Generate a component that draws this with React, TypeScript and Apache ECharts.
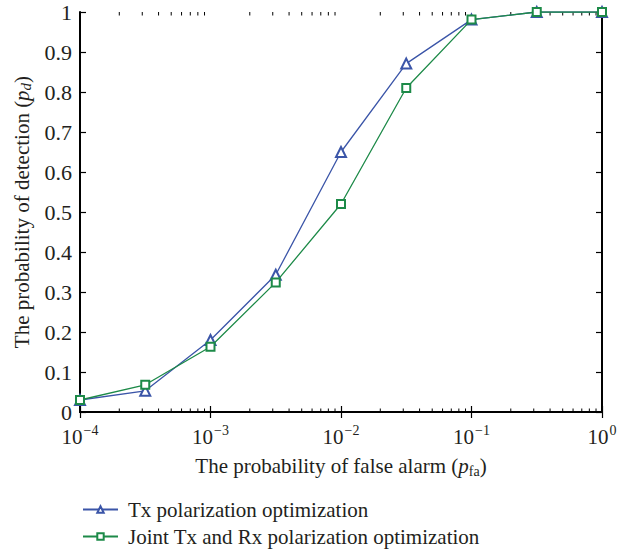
import React, { useEffect, useRef } from "react";
import * as echarts from "echarts";

const xValues = [1e-4, 3.1623e-4, 1e-3, 3.1623e-3, 1e-2, 3.1623e-2, 1e-1, 3.1623e-1, 1];
const txValues = [0.03, 0.053, 0.18, 0.343, 0.65, 0.871, 0.981, 1.0, 1.0];
const jointValues = [0.03, 0.068, 0.163, 0.324, 0.52, 0.81, 0.981, 1.0, 1.0];
const seriesNames = ["Tx polarization optimization", "Joint Tx and Rx polarization optimization"];
const yTickLabels = ["0", "0.1", "0.2", "0.3", "0.4", "0.5", "0.6", "0.7", "0.8", "0.9", "1"];
const decadeExponents = [-4, -3, -2, -1];
const minorMultipliers = [2, 3, 4, 5, 6, 7, 8, 9];

const FONT = "Liberation Serif";
const BLUE = "#3b55a8";
const GREEN = "#1d8a48";
const INK = "#231f20";

export default function App() {
  const ref = useRef<HTMLDivElement>(null);
  useEffect(() => {
    if (!ref.current) return;
    const chart = echarts.init(ref.current, null, { renderer: "svg" });
    const minorTicks: number[][] = [];
    decadeExponents.forEach((e) => {
      minorMultipliers.forEach((m) => minorTicks.push([m * Math.pow(10, e), 0]));
    });
    const sup = (v: number) => {
      const e = Math.round(Math.log10(v));
      const s = e < 0 ? "\u2212" + Math.abs(e) : String(e);
      return "{b|10}{s|" + s + "}";
    };
    chart.setOption({
      animation: false,
      backgroundColor: "#ffffff",
      grid: { left: 80, right: 34, top: 12, bottom: 143 },
      legend: {
        data: seriesNames,
        orient: "vertical",
        left: 77,
        top: 494,
        height: 60,
        itemWidth: 35,
        itemHeight: 8,
        itemGap: 6,
        textStyle: { fontFamily: FONT, fontSize: 21, color: INK, padding: [0, 0, 0, 5] },
      },
      xAxis: [
        {
          type: "log",
          logBase: 10,
          min: 1e-4,
          max: 1,
          position: "bottom",
          axisLine: { lineStyle: { color: "#000", width: 2 } },
          axisTick: { inside: true, length: 6, lineStyle: { color: "#000", width: 1.2 } },
          splitLine: { show: false },
          axisLabel: {
            margin: 11,
            formatter: (v: number) => sup(v),
            rich: {
              b: { fontFamily: FONT, fontSize: 21, color: INK },
              s: { fontFamily: FONT, fontSize: 14, color: INK, padding: [0, 0, 13, 1] },
            },
          },
          name: "{n|The probability of false alarm (}{i|p}{f|fa}{n|)}",
          nameLocation: "middle",
          nameGap: 42,
          nameTextStyle: {
            rich: {
              n: { fontFamily: FONT, fontSize: 21, color: INK },
              i: { fontFamily: FONT, fontSize: 21, fontStyle: "italic", color: INK },
              f: { fontFamily: FONT, fontSize: 14, color: INK, padding: [10, 0, 0, 0] },
            },
          },
        },
        {
          type: "log",
          logBase: 10,
          min: 1e-4,
          max: 1,
          position: "top",
          axisLine: { lineStyle: { color: "#000", width: 2 } },
          axisTick: { inside: true, length: 6, lineStyle: { color: "#000", width: 1.2 } },
          axisLabel: { show: false },
          splitLine: { show: false },
        },
      ],
      yAxis: [
        {
          type: "value",
          min: 0,
          max: 1,
          interval: 0.1,
          position: "left",
          axisLine: { show: true, lineStyle: { color: "#000", width: 2 } },
          axisTick: { show: true, inside: true, length: 6, lineStyle: { color: "#000", width: 1.2 } },
          splitLine: { show: false },
          axisLabel: {
            margin: 8,
            fontFamily: FONT,
            fontSize: 22,
            color: INK,
            formatter: (v: number) => yTickLabels[Math.round(v * 10)],
          },
          name: "{n|The probability of detection (}{i|p}{d|d}{n|)}",
          nameLocation: "middle",
          nameGap: 41,
          nameTextStyle: {
            rich: {
              n: { fontFamily: FONT, fontSize: 21, color: INK },
              i: { fontFamily: FONT, fontSize: 21, fontStyle: "italic", color: INK },
              d: { fontFamily: FONT, fontSize: 15, fontStyle: "italic", color: INK, padding: [8, 0, 0, 0] },
            },
          },
        },
        {
          type: "value",
          min: 0,
          max: 1,
          interval: 0.1,
          position: "right",
          axisLine: { show: true, lineStyle: { color: "#000", width: 2 } },
          axisTick: { show: true, inside: true, length: 6, lineStyle: { color: "#000", width: 1.2 } },
          axisLabel: { show: false },
          splitLine: { show: false },
        },
      ],
      series: [
        {
          name: "minorTicks",
          type: "custom",
          xAxisIndex: 0,
          yAxisIndex: 0,
          silent: true,
          z: 1,
          data: minorTicks,
          renderItem: (params: any, api: any) => {
            const x = api.value(0);
            const b = api.coord([x, 0]);
            const t = api.coord([x, 1]);
            return {
              type: "group",
              children: [
                { type: "line", shape: { x1: b[0], y1: b[1], x2: b[0], y2: b[1] - 3.5 }, style: { stroke: "#000", lineWidth: 1 } },
                { type: "line", shape: { x1: t[0], y1: t[1], x2: t[0], y2: t[1] + 3.5 }, style: { stroke: "#000", lineWidth: 1 } },
              ],
            };
          },
        },
        {
          name: seriesNames[0],
          type: "line",
          data: xValues.map((x, i) => [x, txValues[i]]),
          symbol: "emptyTriangle",
          symbolSize: 10,
          lineStyle: { color: BLUE, width: 1.3 },
          itemStyle: { color: BLUE, borderColor: BLUE, borderWidth: 1.2 },
          z: 3,
        },
        {
          name: seriesNames[1],
          type: "line",
          data: xValues.map((x, i) => [x, jointValues[i]]),
          symbol: "emptyRect",
          symbolSize: 8,
          lineStyle: { color: GREEN, width: 1.3 },
          itemStyle: { color: GREEN, borderColor: GREEN, borderWidth: 1.2 },
          z: 4,
        },
      ],
    });
    return () => chart.dispose();
  }, []);
  return <div ref={ref} style={{ position: "absolute", left: 0, top: 0, width: 636, height: 555 }} />;
}
